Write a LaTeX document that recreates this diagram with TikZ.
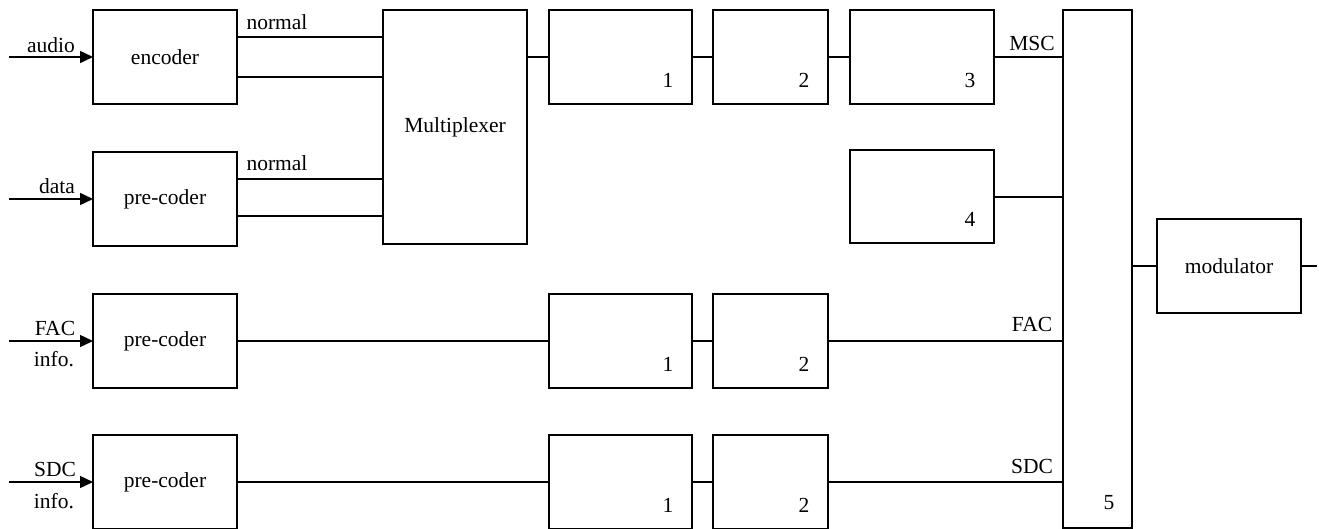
\documentclass[tikz,border=0pt]{standalone}
\usepackage{fontspec}
\setmainfont{Liberation Serif}
\usetikzlibrary{arrows.meta}
\begin{document}
\begin{tikzpicture}[x=1pt,y=-1pt,
  blk/.style={draw,line width=2pt,inner sep=0pt,outer sep=0pt,minimum width=144pt,minimum height=94pt},
  wire/.style={line width=1.5pt},
  inarrow/.style={wire,-{Triangle[length=13pt,width=12pt]}},
  lbl/.style={inner sep=0pt,font=\fontsize{21.5}{25}\selectfont},
  num/.style={lbl,anchor=center}
]
\useasboundingbox (0,0) rectangle (1319,529);
\tikzset{every node/.append style={font=\fontsize{21.5}{25}\selectfont}}
% left column
\node[blk] (enc) at (165,57) {encoder};
\node[blk] (dpc) at (165,199) {pre-coder};
\node[blk] (fpc) at (165,341) {pre-coder};
\node[blk] (spc) at (165,482) {pre-coder};
% multiplexer
\node[blk,minimum height=234pt] (mux) at (455,127) {Multiplexer};
% MSC row
\node[blk,minimum width=143pt] (m1) at (620.5,57) {};
\node[blk,minimum width=115pt] (m2) at (770.5,57) {};
\node[blk] (m3) at (922,57) {};
\node[blk,minimum height=93pt] (m4) at (922,197) {};
% FAC row
\node[blk,minimum width=143pt] (f1) at (620.5,341) {};
\node[blk,minimum width=115pt] (f2) at (770.5,341) {};
% SDC row
\node[blk,minimum width=143pt] (s1) at (620.5,482) {};
\node[blk,minimum width=115pt] (s2) at (770.5,482) {};
% block 5 and modulator
\node[blk,minimum width=69pt,minimum height=518pt] (b5) at (1097.5,269) {};
\node[blk] (mod) at (1229,266) {modulator};
% numbers
\node[num] (n1) at ([shift={(-24,-24)}]m1.south east) {1};
\node[num] (n2) at ([shift={(-24,-24)}]m2.south east) {2};
\node[num] (n3) at ([shift={(-24,-24)}]m3.south east) {3};
\node[num] (n4) at ([shift={(-24,-24)}]m4.south east) {4};
\node[num] (n1f) at ([shift={(-24,-24)}]f1.south east) {1};
\node[num] (n2f) at ([shift={(-24,-24)}]f2.south east) {2};
\node[num] (n1s) at ([shift={(-24,-24)}]s1.south east) {1};
\node[num] (n2s) at ([shift={(-24,-24)}]s2.south east) {2};
\node[num] (n5) at ([shift={(-23,-25)}]b5.south east) {5};
% inputs
\coordinate (ain) at (9,57);
\coordinate (din) at (9,199);
\coordinate (fin) at (9,341);
\coordinate (sin) at (9,482);
\draw[inarrow] (ain) -- (enc.west);
\draw[inarrow] (din) -- (dpc.west);
\draw[inarrow] (fin) -- (fpc.west);
\draw[inarrow] (sin) -- (spc.west);
\node[lbl] (audio) at (51,45) {audio};
\node[lbl] (data) at (57,186) {data};
\node[lbl] (facl) at (55,328) {FAC};
\node[lbl] (facinfo) at (54,359) {info.};
\node[lbl] (sdcl) at (55,469) {SDC};
\node[lbl] (sdcinfo) at (54,501) {info.};
% encoder/pre-coder to multiplexer
\draw[wire] (enc.east |- 0,37) -- (mux.west |- 0,37);
\draw[wire] (enc.east |- 0,77) -- (mux.west |- 0,77);
\draw[wire] (dpc.east |- 0,179) -- (mux.west |- 0,179);
\draw[wire] (dpc.east |- 0,216) -- (mux.west |- 0,216);
\node[lbl] (norm1) at (277,22) {normal};
\node[lbl] (norm2) at (277,163) {normal};
% MSC chain
\draw[wire] (mux.east |- m1.west) -- (m1.west);
\draw[wire] (m1.east) -- (m2.west);
\draw[wire] (m2.east) -- (m3.west);
\draw[wire] (m3.east) -- (b5.west |- m3.east);
\draw[wire] (m4.east) -- (b5.west |- m4.east);
% FAC chain
\draw[wire] (fpc.east) -- (f1.west);
\draw[wire] (f1.east) -- (f2.west);
\draw[wire] (f2.east) -- (b5.west |- f2.east);
% SDC chain
\draw[wire] (spc.east) -- (s1.west);
\draw[wire] (s1.east) -- (s2.west);
\draw[wire] (s2.east) -- (b5.west |- s2.east);
\node[lbl] (msc) at (1032,43) {MSC};
\node[lbl] (facr) at (1032,324) {FAC};
\node[lbl] (sdcr) at (1032,466) {SDC};
% modulator
\coordinate (out) at (1317,266);
\draw[wire] (b5.east |- mod.west) -- (mod.west);
\draw[wire] (mod.east) -- (out);
\end{tikzpicture}
\end{document}
